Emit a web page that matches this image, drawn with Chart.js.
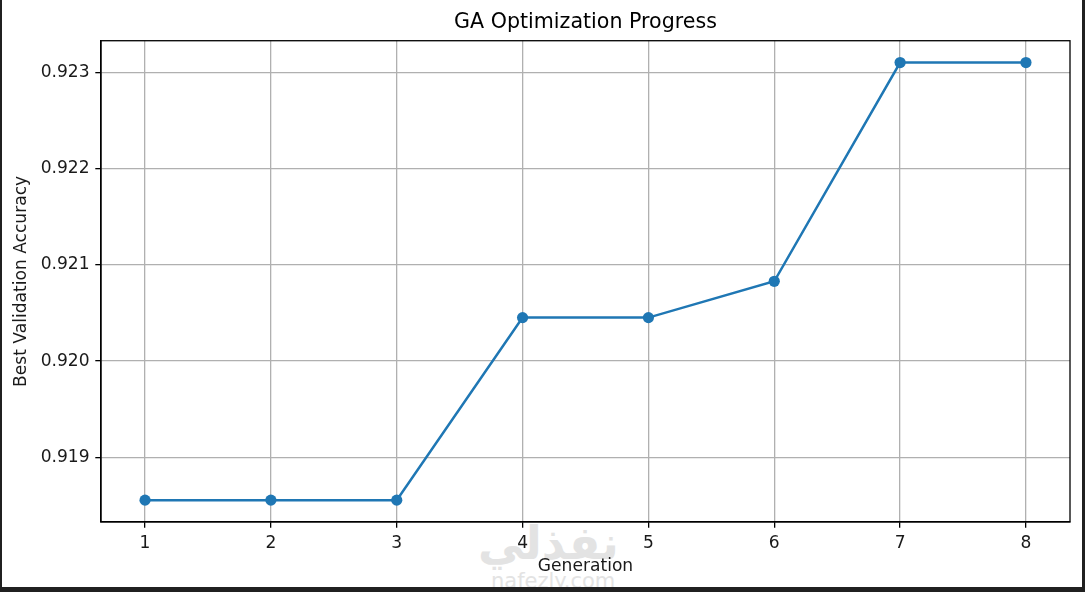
<!DOCTYPE html>
<html>
<head>
<meta charset="utf-8">
<script src="https://cdn.jsdelivr.net/npm/chart.js@4"></script>
<style>
  html, body { margin: 0; padding: 0; background: #202020; }
  #wrap { position: absolute; left: 2px; top: 0; width: 1080px; height: 587px; background: #fff; overflow: hidden; }
  #chart { position: absolute; left: 0; top: 0; }
  .wm { position: absolute; color: #e3e3e3; font-family: "DejaVu Sans", sans-serif; white-space: nowrap; }
</style>
</head>
<body>
<div id="wrap">
  <div class="wm" style="left:476px; top:516px; font-size:46px; font-weight:bold;" dir="rtl">نفذلي</div>
  <div class="wm" style="left:489px; top:569px; font-size:21px;">nafezly.com</div>
  <canvas id="chart" width="1080" height="587"></canvas>
</div>
<script>
// generations and best validation accuracy per generation
let generations = [1, 2, 3, 4, 5, 6, 7, 8];
let bestAccuracy = [0.918555, 0.918555, 0.918555, 0.920452, 0.920452, 0.920829, 0.923102, 0.923102];

// tick labels
let xTickValues = [1, 2, 3, 4, 5, 6, 7, 8];
let yTickValues = [0.919, 0.920, 0.921, 0.922, 0.923];

let points = [];
for (let i = 0; i < generations.length; i++) {
    points.push({ x: generations[i], y: bestAccuracy[i] });
}

const fontFamily = "'DejaVu Sans', sans-serif";

// draws the top and right spines like matplotlib does
const boxFrame = {
    id: 'boxFrame',
    afterDraw: function(chart) {
        var ctx = chart.ctx,
            a = chart.chartArea;
        ctx.save();
        ctx.strokeStyle = '#000';
        ctx.lineWidth = 1.3;
        ctx.strokeRect(a.left, a.top, a.right - a.left, a.bottom - a.top);
        ctx.restore();
    }
};

new Chart(document.getElementById('chart'), {
    type: 'line',
    plugins: [boxFrame],
    data: {
        datasets: [{
            data: points,
            borderColor: '#1f77b4',
            backgroundColor: '#1f77b4',
            borderWidth: 2.5,
            pointRadius: 5.6,
            pointHoverRadius: 5.6,
            pointBorderWidth: 0,
            pointBackgroundColor: '#1f77b4',
            tension: 0
        }]
    },
    options: {
        responsive: false,
        animation: false,
        devicePixelRatio: 1,
        layout: { padding: { left: 0, right: 12, top: 0, bottom: 0 } },
        plugins: {
            legend: { display: false },
            tooltip: { enabled: false },
            title: {
                display: true,
                text: 'GA Optimization Progress',
                fullSize: false,
                color: '#000',
                font: { family: fontFamily, size: 20.6, weight: 'normal' },
                padding: { top: 10.1, bottom: 5.9 }
            }
        },
        scales: {
            x: {
                type: 'linear',
                min: 0.65,
                max: 8.35,
                afterFit: function(scale) { scale.height = 65; },
                afterBuildTicks: function(scale) {
                    scale.ticks = xTickValues.map(v => ({ value: v }));
                },
                ticks: {
                    color: '#1a1a1a',
                    padding: 6,
                    maxRotation: 0,
                    font: { family: fontFamily, size: 17.1 },
                    callback: function(v) { return String(v); }
                },
                grid: {
                    color: '#b0b0b0',
                    lineWidth: 1.3,
                    tickColor: '#000',
                    tickWidth: 1.3,
                    tickLength: 5.7
                },
                border: { color: '#000', width: 1.3 },
                title: {
                    display: true,
                    text: 'Generation',
                    color: '#1a1a1a',
                    font: { family: fontFamily, size: 17.1 },
                    padding: { top: 0, bottom: 10.2 }
                }
            },
            y: {
                type: 'linear',
                min: 0.918328,
                max: 0.923329,
                afterFit: function(scale) { scale.width = 99; },
                afterBuildTicks: function(scale) {
                    scale.ticks = yTickValues.map(v => ({ value: v }));
                },
                ticks: {
                    color: '#1a1a1a',
                    padding: 5.7,
                    font: { family: fontFamily, size: 17.1 },
                    callback: function(v) { return Number(v).toFixed(3); }
                },
                grid: {
                    color: '#b0b0b0',
                    lineWidth: 1.3,
                    tickColor: '#000',
                    tickWidth: 1.3,
                    tickLength: 5.7
                },
                border: { color: '#000', width: 1.3 },
                title: {
                    display: true,
                    text: 'Best Validation Accuracy',
                    color: '#1a1a1a',
                    font: { family: fontFamily, size: 17.1 },
                    padding: { top: 9.3, bottom: 0 }
                }
            }
        }
    }
});
</script>
</body>
</html>
